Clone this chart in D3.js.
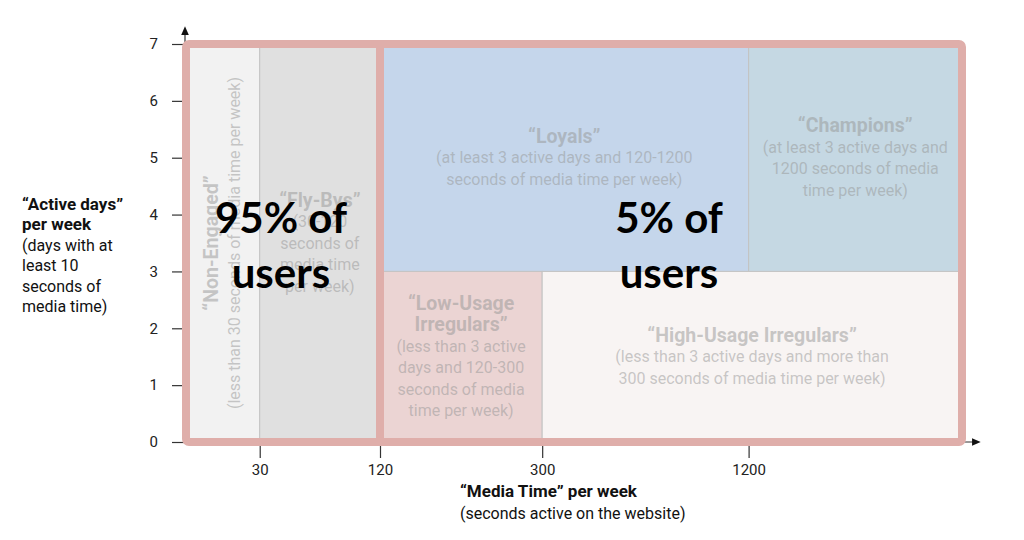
<!DOCTYPE html>
<html>
<head>
<meta charset="utf-8">
<script src="https://cdn.jsdelivr.net/npm/d3@7"></script>
<style>
  html, body { margin: 0; padding: 0; background: #fff; }
  svg { display: block; font-family: Roboto, "Liberation Sans", sans-serif; }
</style>
</head>
<body>
<div id="chart"></div>
<script>
// segment boundaries (seconds of media time / active days per week)
var segmentNames   = ["Non-Engaged", "Fly-Bys", "Loyals", "Champions", "Low-Usage Irregulars", "High-Usage Irregulars"];
var segmentMinSec  = [0, 30, 120, 1200, 120, 300];
var segmentMaxSec  = [30, 120, 1200, 2400, 300, 2400];
var segmentMinDays = [0, 0, 3, 3, 0, 0];
var segmentMaxDays = [7, 7, 7, 7, 3, 3];
var segmentColors  = ["#f2f2f2", "#e0e0e0", "#c5d6eb", "#c5d8e3", "#ebd4d3", "#f8f4f3"];
var segmentTitles  = [
    ["\u201cNon-Engaged\u201d"],
    ["\u201cFly-Bys\u201d"],
    ["\u201cLoyals\u201d"],
    ["\u201cChampions\u201d"],
    ["\u201cLow-Usage", "Irregulars\u201d"],
    ["\u201cHigh-Usage Irregulars\u201d"]
];
var segmentNotes   = [
    ["(less than 30 seconds of media time per week)"],
    ["(30-120", "seconds of", "media time", "per week)"],
    ["(at least 3 active days and 120-1200", "seconds of media time per week)"],
    ["(at least 3 active days and", "1200 seconds of media", "time per week)"],
    ["(less than 3 active", "days and 120-300", "seconds of media", "time per week)"],
    ["(less than 3 active days and more than", "300 seconds of media time per week)"]
];
var segmentRotated = [true, false, false, false, false, false];

// user share groups
var groupLines  = [["95% of", "users"], ["5% of", "users"]];
var groupMinSec = [0, 120];
var groupMaxSec = [120, 2400];

// axes
var xBreaks = [0, 30, 120, 300, 1200, 2400];
var xTicks  = [30, 120, 300, 1200];
var yTicks  = [0, 1, 2, 3, 4, 5, 6, 7];
var yTitleBold = ["\u201cActive days\u201d", "per week"];
var yTitleNote = ["(days with at", "least 10", "seconds of", "media time)"];
var xTitleBold = "\u201cMedia Time\u201d per week";
var xTitleNote = "(seconds active on the website)";

var width = 1024, height = 540
    , margin = {top: 44, right: 62, bottom: 98, left: 186}
    , innerW = width - margin.left - margin.right
    , innerH = height - margin.top - margin.bottom
    , frameColor = "#dfaeaa"
    , labelColor = "rgba(150,150,150,0.5)";

// piecewise scale: the segments are not evenly spaced in the original
var xScale = d3.scaleLinear()
    .domain(xBreaks)
    .range([0, 0.095, 0.25, 0.459, 0.725, 1].map(function(f) { return f * innerW; }));
var yScale = d3.scaleLinear().domain([0, 7]).range([innerH, 0]);

var svg = d3.select("#chart").append("svg")
    .attr("width", width)
    .attr("height", height);

var defs = svg.append("defs");
defs.append("marker")
    .attr("id", "arrow")
    .attr("viewBox", "0 0 10 10")
    .attr("refX", 1).attr("refY", 5)
    .attr("markerWidth", 8).attr("markerHeight", 8)
    .attr("orient", "auto")
  .append("path")
    .attr("d", "M0,1 L9,5 L0,9 Z")
    .attr("fill", "#111");

var g = svg.append("g")
    .attr("transform", "translate(" + margin.left + "," + margin.top + ")");

// axis lines with arrows
g.append("line")
    .attr("x1", -1).attr("x2", -1)
    .attr("y1", innerH).attr("y2", -10)
    .attr("stroke", "#333").attr("stroke-width", 1.2)
    .attr("marker-end", "url(#arrow)");
g.append("line")
    .attr("x1", -1).attr("x2", innerW + 11)
    .attr("y1", innerH).attr("y2", innerH)
    .attr("stroke", "#333").attr("stroke-width", 1.2)
    .attr("marker-end", "url(#arrow)");

var yAxis = g.append("g")
    .attr("transform", "translate(-1,0)")
    .call(d3.axisLeft(yScale).tickValues(yTicks).tickSize(13).tickPadding(14).tickFormat(d3.format("d")));
var xAxis = g.append("g")
    .attr("transform", "translate(0," + innerH + ")")
    .call(d3.axisBottom(xScale).tickValues(xTicks).tickSize(16).tickPadding(6).tickFormat(d3.format("d")));
[xAxis, yAxis].forEach(function(a) {
    a.select(".domain").remove();
    a.selectAll("line").attr("stroke", "#333").attr("stroke-width", 1.2);
    a.selectAll("text").attr("fill", "#222").style("font-size", "15px").style("font-family", "Roboto, sans-serif");
});

// segments
var segIdx = d3.range(segmentNames.length);
g.selectAll("rect.segment")
    .data(segIdx)
  .enter().append("rect")
    .attr("class", "segment")
    .attr("x", function(i) { return xScale(segmentMinSec[i]); })
    .attr("y", function(i) { return yScale(segmentMaxDays[i]); })
    .attr("width", function(i) { return xScale(segmentMaxSec[i]) - xScale(segmentMinSec[i]); })
    .attr("height", function(i) { return yScale(segmentMinDays[i]) - yScale(segmentMaxDays[i]); })
    .attr("fill", function(i) { return segmentColors[i]; })
    .attr("stroke", "#c3c3c3")
    .attr("stroke-width", 1);

// pink frame and the 120 s divider
g.append("rect")
    .attr("x", xScale(0)).attr("y", yScale(7))
    .attr("width", xScale(2400) - xScale(0))
    .attr("height", yScale(0) - yScale(7))
    .attr("rx", 3)
    .attr("fill", "none")
    .attr("stroke", frameColor)
    .attr("stroke-width", 8);
g.append("line")
    .attr("x1", xScale(120)).attr("x2", xScale(120))
    .attr("y1", yScale(7)).attr("y2", yScale(0))
    .attr("stroke", frameColor)
    .attr("stroke-width", 8);

// segment labels
var lineH = 21.5;
segIdx.forEach(function(i) {
    var cx = (xScale(segmentMinSec[i]) + xScale(segmentMaxSec[i])) / 2
        , cy = (yScale(segmentMinDays[i]) + yScale(segmentMaxDays[i])) / 2
        , lines = segmentTitles[i].map(function(t) { return {t: t, b: true}; })
            .concat(segmentNotes[i].map(function(t) { return {t: t, b: false}; }))
        , n = lines.length;

    var lg = g.append("g")
        .attr("transform", "translate(" + cx + "," + cy + ")" + (segmentRotated[i] ? " rotate(-90)" : ""));
    lg.selectAll("text")
        .data(lines)
      .enter().append("text")
        .attr("text-anchor", "middle")
        .attr("x", 0)
        .attr("y", function(d, k) { return (k - (n - 1) / 2) * (segmentRotated[i] ? 24 : lineH); })
        .attr("dy", "0.35em")
        .attr("fill", labelColor)
        .style("font-weight", function(d) { return d.b ? 700 : 400; })
        .style("font-size", function(d) { return d.b ? "19.5px" : "16px"; })
        .text(function(d) { return d.t; });
});

// user share labels
groupLines.forEach(function(lines, i) {
    var cx = (xScale(groupMinSec[i]) + xScale(groupMaxSec[i])) / 2 - 2;
    g.append("text")
        .attr("text-anchor", "middle")
        .attr("x", cx)
        .attr("y", innerH / 2 - 10)
        .attr("fill", "#000")
        .style("font-family", "Lato, 'Open Sans', sans-serif")
        .style("font-weight", 700)
        .style("font-size", "42px")
      .selectAll("tspan")
        .data(lines)
      .enter().append("tspan")
        .attr("x", cx)
        .attr("dy", function(d, k) { return k === 0 ? 0 : 55; })
        .text(function(d) { return d; });
});

// y axis title
var yt = svg.append("text")
    .attr("x", 22).attr("y", 210)
    .attr("fill", "#111")
    .style("font-size", "16px");
yt.selectAll("tspan")
    .data(yTitleBold.map(function(t) { return {t: t, b: true}; })
        .concat(yTitleNote.map(function(t) { return {t: t, b: false}; })))
  .enter().append("tspan")
    .attr("x", 22)
    .attr("dy", function(d, k) { return k === 0 ? 0 : 20.4; })
    .style("font-weight", function(d) { return d.b ? 700 : 400; })
    .style("font-size", function(d) { return d.b ? "17px" : "16px"; })
    .text(function(d) { return d.t; });

// x axis title
svg.append("text")
    .attr("x", 460).attr("y", 497)
    .attr("fill", "#111")
    .style("font-size", "17px")
    .style("font-weight", 700)
    .text(xTitleBold);
svg.append("text")
    .attr("x", 460).attr("y", 519)
    .attr("fill", "#111")
    .style("font-size", "16px")
    .text(xTitleNote);
</script>
</body>
</html>
